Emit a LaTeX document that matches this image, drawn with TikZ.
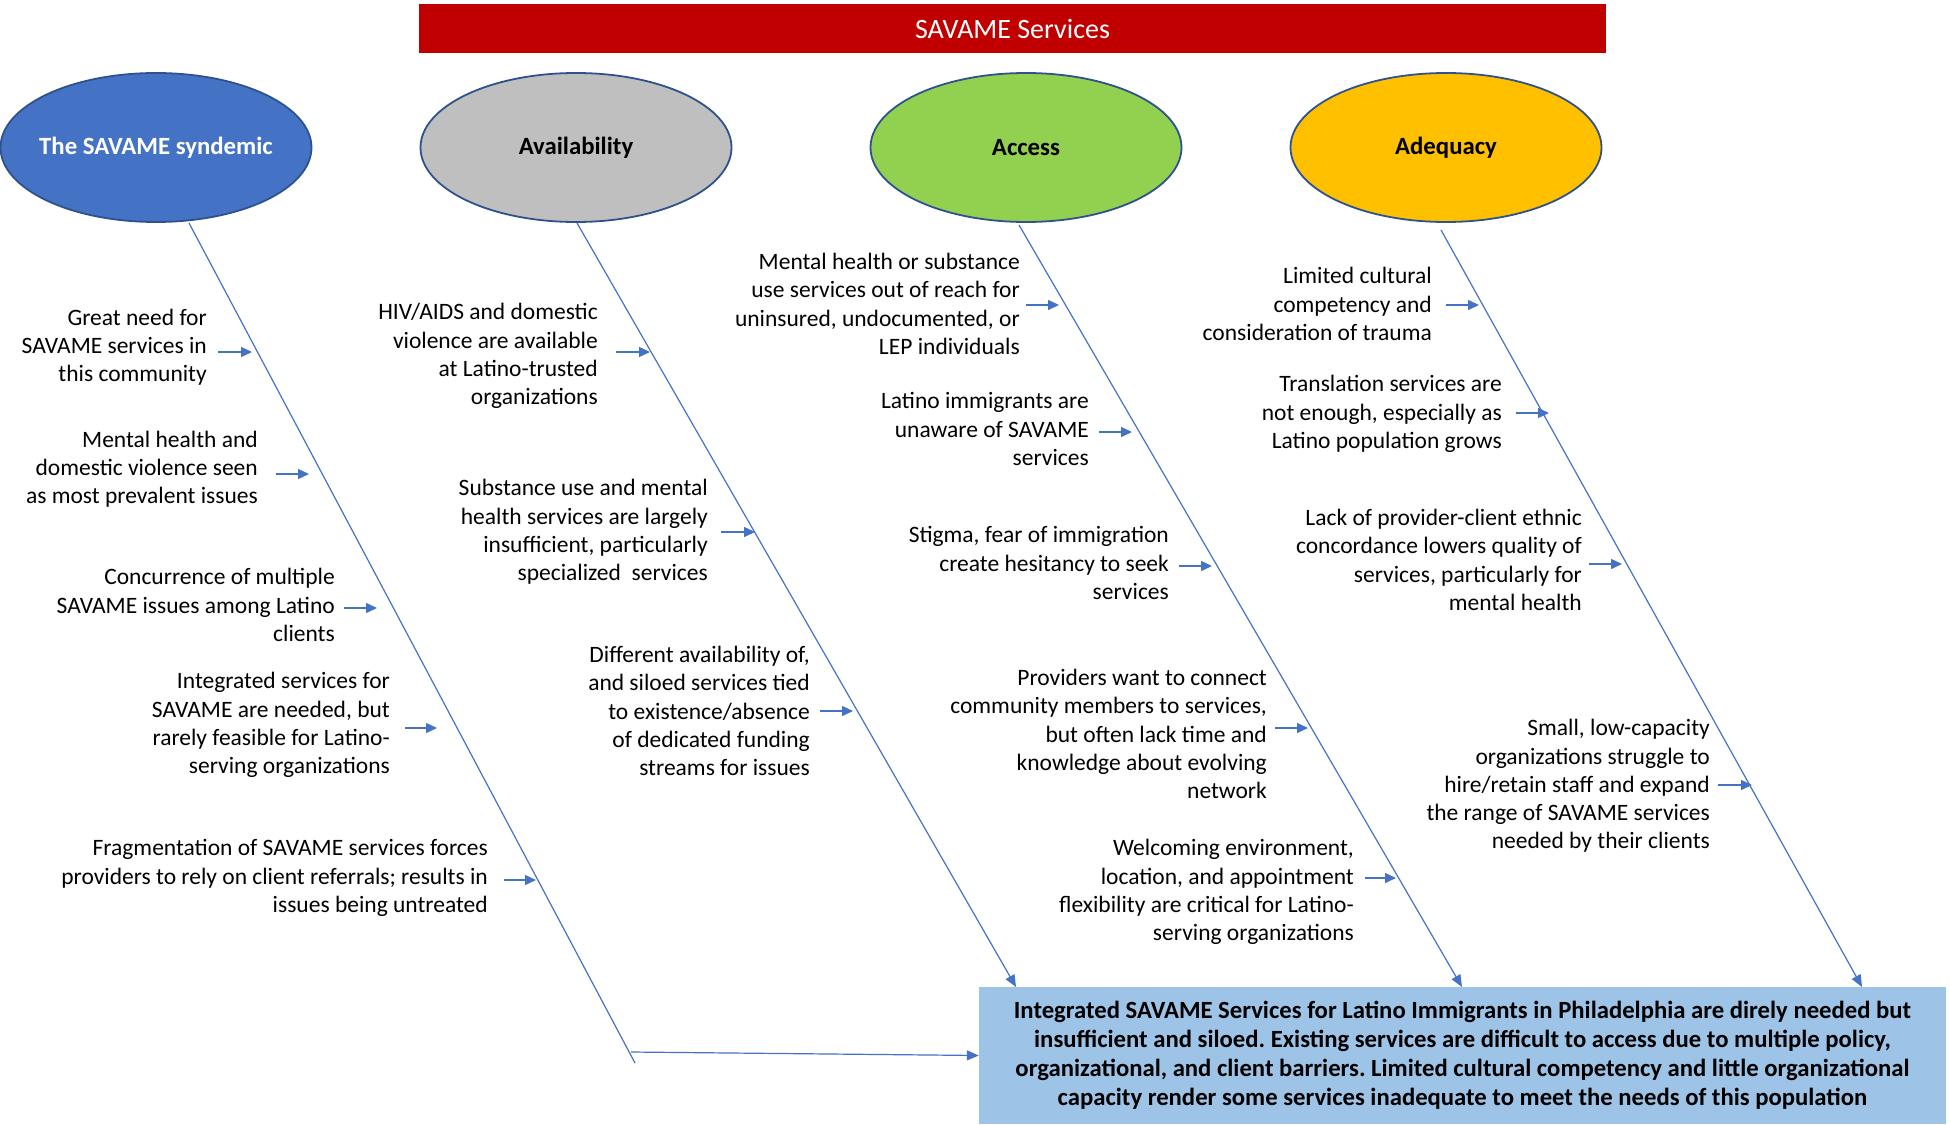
\documentclass[tikz,border=0pt]{standalone}
\usepackage{fontspec}
\setmainfont{Carlito}
\usetikzlibrary{shapes.geometric,arrows.meta}
\definecolor{barred}{HTML}{C00000}
\definecolor{ablue}{HTML}{4472C4}
\definecolor{agray}{HTML}{BFBFBF}
\definecolor{agreen}{HTML}{92D050}
\definecolor{ayellow}{HTML}{FFC000}
\definecolor{edgeblue}{HTML}{2F528F}
\definecolor{boxblue}{HTML}{9DC3E6}
\frenchspacing
\begin{document}
\frenchspacing
\begin{tikzpicture}[x=1pt,y=-1pt,
  cat/.style={ellipse, draw=edgeblue, line width=1.8pt, minimum width=311pt, minimum height=149pt, inner xsep=-50pt, inner ysep=0pt, font=\fontsize{24.8}{29}\selectfont\bfseries},
  lbl/.style={align=right, inner sep=0pt, anchor=east, font=\fontsize{23.5}{28.2}\selectfont},
  spine/.style={draw=ablue, line width=1.2pt},
  spinearr/.style={spine, -{Triangle[length=12pt,width=10pt]}},
  tick/.style={draw=ablue, line width=1.4pt, -{Triangle[length=11pt,width=10pt]}}
]
\useasboundingbox (0,0) rectangle (1950,1124);

% title bar
\node[fill=barred, minimum width=1187pt, minimum height=49pt, inner sep=0pt, text=white,
      font=\fontsize{28}{33}\selectfont] (title) at (1012.5,28.5) {SAVAME Services};

% category ellipses
\node[cat, fill=ablue, text=white] (e1) at (156,147.5) {The SAVAME syndemic};
\node[cat, fill=agray] (e2) at (576,147.5) {Availability};
\node[cat, fill=agreen] (e3) at (1026,147.5) {Access};
\node[cat, fill=ayellow] (e4) at (1446,147.5) {Adequacy};

% outcome box
\node[fill=boxblue, minimum width=967pt, minimum height=137pt, inner sep=0pt, align=center,
      font=\fontsize{24.7}{29}\selectfont\bfseries] (out) at (1462.5,1055.5)
  {Integrated SAVAME Services for Latino Immigrants in Philadelphia are direly needed but\\
   insufficient and siloed. Existing services are difficult to access due to multiple policy,\\
   organizational, and client barriers. Limited cultural competency and little organizational\\
   capacity render some services inadequate to meet the needs of this population};

% spines
\coordinate (s1a) at (189,223);
\coordinate (s1b) at (635,1063);
\coordinate (s1c) at (631,1052);
\draw[spine] (s1a) -- (s1b);
\draw[spinearr] (s1c) -- (out.west);
\coordinate (s2a) at (577,223);
\coordinate (s2b) at (1016,987);
\draw[spinearr] (s2a) -- (s2b);
\coordinate (s3a) at (1019,225);
\coordinate (s3b) at (1462,987);
\draw[spinearr] (s3a) -- (s3b);
\coordinate (s4a) at (1441,230);
\coordinate (s4b) at (1862,987);
\draw[spinearr] (s4a) -- (s4b);

% labels, spine 1
\node[lbl] (t1a) at (207,347) {Great need for\\SAVAME services in\\this community};
\node[lbl] (t1b) at (258,469) {Mental health and\\domestic violence seen\\as most prevalent issues};
\node[lbl] (t1c) at (335,605) {Concurrence of multiple\\SAVAME issues among Latino\\clients};
\node[lbl] (t1d) at (390,725) {Integrated services for\\SAVAME are needed, but\\rarely feasible for Latino-\\serving organizations};
\node[lbl] (t1e) at (488,878) {Fragmentation of SAVAME services forces\\providers to rely on client referrals; results in\\issues being untreated};

% labels, spine 2
\node[lbl] (t2a) at (598,356) {HIV/AIDS and domestic\\violence are available\\at Latino-trusted\\organizations};
\node[lbl] (t2b) at (708,532) {Substance use and mental\\health services are largely\\insufficient, particularly\\specialized\ \ services};
\node[lbl] (t2c) at (810,711) {Different availability of,\\and siloed services tied\\to existence/absence\\of dedicated funding\\streams for issues};

% labels, spine 3
\node[lbl] (t3a) at (1020,304) {Mental health or substance\\use services out of reach for\\uninsured, undocumented, or\\LEP individuals};
\node[lbl] (t3b) at (1089,429) {Latino immigrants are\\unaware of SAVAME\\services};
\node[lbl] (t3c) at (1169,563) {Stigma, fear of immigration\\create hesitancy to seek\\services};
\node[lbl] (t3d) at (1267,734) {Providers want to connect\\community members to services,\\but often lack time and\\knowledge about evolving\\network};
\node[lbl] (t3e) at (1354,892) {Welcoming environment,\\location, and appointment\\flexibility are critical for Latino-\\serving organizations};

% labels, spine 4
\node[lbl] (t4a) at (1432,304) {Limited cultural\\competency and\\consideration of trauma};
\node[lbl] (t4b) at (1502,414) {Translation services are\\not enough, especially as\\Latino population grows};
\node[lbl] (t4c) at (1582,560) {Lack of provider-client ethnic\\concordance lowers quality of\\services, particularly for\\mental health};
\node[lbl] (t4d) at (1710,786) {Small, low-capacity\\organizations struggle to\\hire/retain staff and expand\\the range of SAVAME services\\needed by their clients};

% small arrows toward the spines
\foreach \n/\xa/\xb/\yy in {1a/218/252/352, 1b/276/309/474, 1c/344/377/608, 1d/405/437/728, 1e/504/536/880,
  2a/616/650/352, 2b/721/755/532, 2c/820/853/711,
  3a/1026/1059/305, 3b/1099/1132/432, 3c/1179/1212/566, 3d/1275/1308/728, 3e/1365/1396/878,
  4a/1446/1479/305, 4b/1516/1549/413, 4c/1589/1622/564, 4d/1718/1752/785}{
  \coordinate (k\n s) at (\xa,\yy);
  \coordinate (k\n e) at (\xb,\yy);
  \draw[tick] (k\n s) -- (k\n e);
}
\end{tikzpicture}
\end{document}
